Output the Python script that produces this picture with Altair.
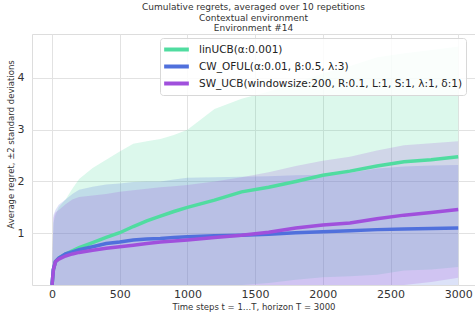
import altair as alt
import pandas as pd

# time steps sampled from the curves
t = [0, 10, 25, 50, 100, 150, 200, 300, 400, 500, 600, 700, 800, 900, 1000,
     1200, 1400, 1600, 1800, 2000, 2200, 2400, 2600, 2800, 3000]

# linUCB
lin_mean = [0, 0.30, 0.45, 0.52, 0.60, 0.66, 0.72, 0.82, 0.92, 1.01, 1.13, 1.24, 1.33, 1.42, 1.50,
            1.64, 1.80, 1.89, 2.00, 2.12, 2.20, 2.30, 2.38, 2.42, 2.48]
lin_band = [0, 0.90, 0.90, 0.98, 1.05, 1.20, 1.33, 1.44, 1.50, 1.57, 1.60, 1.54, 1.49, 1.48, 1.50,
            1.76, 1.80, 1.85, 1.90, 1.97, 2.03, 2.10, 2.10, 2.12, 2.13]
# CW_OFUL
cw_mean = [0, 0.30, 0.45, 0.52, 0.60, 0.64, 0.68, 0.74, 0.80, 0.83, 0.87, 0.89, 0.90, 0.92, 0.93,
           0.95, 0.96, 0.98, 1.01, 1.03, 1.05, 1.07, 1.08, 1.09, 1.10]
cw_band = [0, 1.05, 1.00, 1.03, 1.05, 1.12, 1.16, 1.16, 1.14, 1.13, 1.12, 1.11, 1.10, 1.12, 1.14,
           1.13, 1.13, 1.12, 1.11, 1.10, 1.12, 1.18, 1.21, 1.22, 1.22]
# SW_UCB
sw_mean = [0, 0.30, 0.45, 0.50, 0.56, 0.60, 0.63, 0.67, 0.71, 0.74, 0.77, 0.80, 0.83, 0.85, 0.87,
           0.92, 0.96, 1.02, 1.10, 1.16, 1.20, 1.28, 1.35, 1.40, 1.46]
sw_band = [0, 1.00, 0.95, 0.95, 1.00, 1.05, 1.07, 1.06, 1.05, 1.06, 1.06, 1.06, 1.06, 1.06, 1.06,
           1.08, 1.12, 1.16, 1.20, 1.24, 1.28, 1.32, 1.35, 1.34, 1.32]

names = ["linUCB(α:0.001)",
         "CW_OFUL(α:0.01, β:0.5, λ:3)",
         "SW_UCB(windowsize:200, R:0.1, L:1, S:1, λ:1, δ:1)"]
colors = ["#50dca0", "#5070dc", "#a050dc"]
x_ticks = [0, 500, 1000, 1500, 2000, 2500, 3000]
y_ticks = [1, 2, 3, 4]
title_lines = ["Cumulative regrets, averaged over 10 repetitions",
               "Contextual environment", "Environment #14"]

rows = []
for name, m, b in zip(names, [lin_mean, cw_mean, sw_mean], [lin_band, cw_band, sw_band]):
    for ti, mi, bi in zip(t, m, b):
        rows.append({"t": ti, "mean": mi, "lo": mi - bi, "hi": mi + bi, "algo": name})
df = pd.DataFrame(rows)

FONT = "DejaVu Sans"
xscale = alt.Scale(domain=[-148, 3124], nice=False, zero=False)
yscale = alt.Scale(domain=[0, 4.85], nice=False, zero=False)
cscale = alt.Scale(domain=names, range=colors)

xaxis = alt.Axis(values=x_ticks, format="d", title="Time steps t = 1…T, horizon T = 3000",
                 titleFontSize=8.5, titleFontWeight="normal", titleFont=FONT,
                 titleColor="#333333", titleBaseline="middle", titleY=21,
                 labelFontSize=11, labelFont=FONT, labelColor="#333333",
                 labelPadding=3, ticks=False, domain=False,
                 grid=True, gridColor="#e2e2e2")
yaxis = alt.Axis(values=y_ticks, format="d", title="Average regret, ±2 standard deviations",
                 titleFontSize=8.5, titleFontWeight="normal", titleFont=FONT,
                 titleColor="#333333", titleAngle=270, titleAlign="center",
                 titleBaseline="middle", titleX=-22, titleY=110,
                 labelFontSize=11, labelFont=FONT, labelColor="#333333",
                 labelPadding=8, ticks=False, domain=False,
                 grid=True, gridColor="#e2e2e2")
legend = alt.Legend(orient="none", legendX=128, legendY=4, title=None,
                    symbolType="M-1.9,0H1.9", symbolSize=169,
                    symbolStrokeWidth=4, labelFontSize=10.5,
                    labelFont=FONT, labelColor="#222222",
                    labelLimit=400, padding=3, rowPadding=0,
                    symbolOffset=5, labelOffset=14, strokeColor="#d8d8d8",
                    fillColor="rgba(255,255,255,0.85)",
                    cornerRadius=3)

layers = []
for name, col in zip(names, colors):
    area = alt.Chart(df).transform_filter(alt.datum.algo == name).mark_area(
        opacity=0.2, clip=True, color=col
    ).encode(
        x=alt.X("t:Q", scale=xscale, axis=xaxis),
        y=alt.Y("lo:Q", scale=yscale, axis=yaxis),
        y2="hi:Q",
    )
    layers.append(area)

for name in names:
    line = alt.Chart(df).transform_filter(alt.datum.algo == name).mark_line(
        strokeWidth=3.5, clip=True
    ).encode(
        x=alt.X("t:Q", scale=xscale, axis=xaxis),
        y=alt.Y("mean:Q", scale=yscale, axis=yaxis),
        color=alt.Color("algo:N", scale=cscale, sort=names, legend=legend),
    )
    layers.append(line)

chart = alt.layer(*layers).properties(
    width=443, height=251,
    title=alt.TitleParams(text=title_lines, fontSize=9, font=FONT, fontWeight="normal",
                          color="#333333", anchor="middle", frame="group",
                          lineHeight=10.3, baseline="bottom", offset=-8),
    autosize=alt.AutoSizeParams(type="none"),
    padding={"left": 32, "top": 34, "right": 0, "bottom": 35},
).configure_view(stroke="#d0d0d0", strokeWidth=1).configure(background="white")

chart.save("out.html", embed_options={"renderer": "svg", "actions": False})
